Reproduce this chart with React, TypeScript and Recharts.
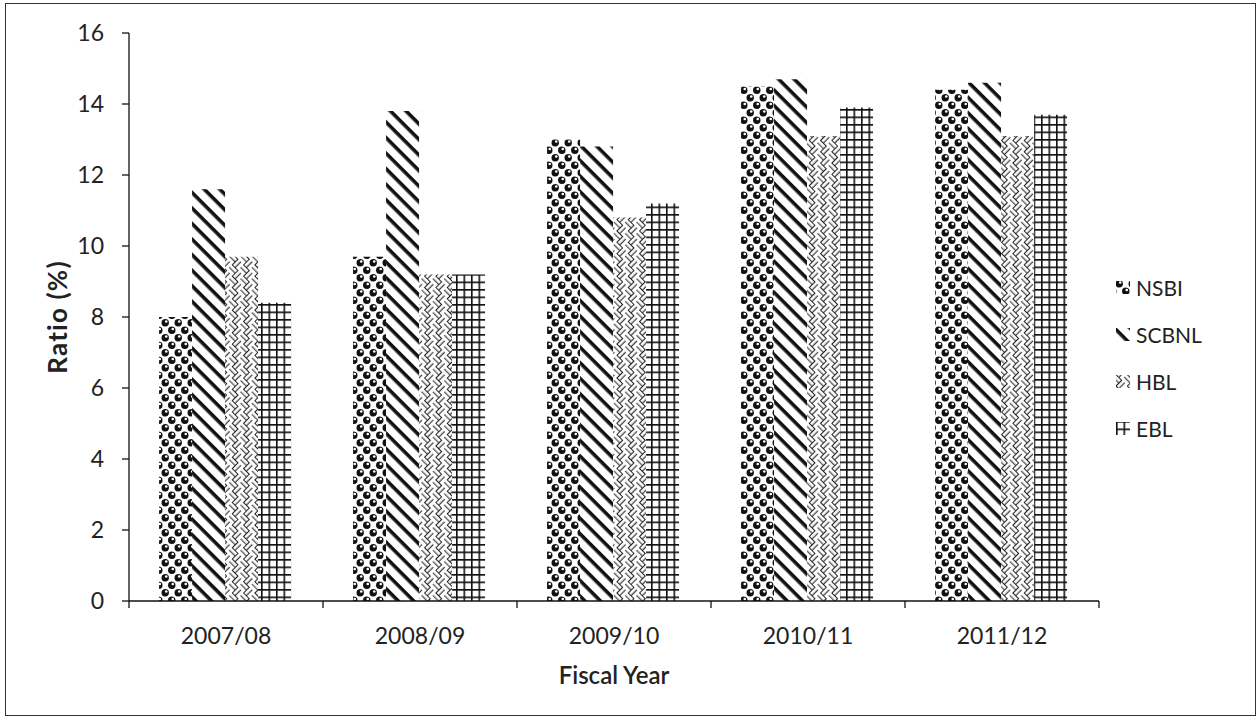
import React from 'react';
import { BarChart, Bar, XAxis, YAxis, Legend } from 'recharts';

// Fiscal years on the category axis
const years = ['2007/08', '2008/09', '2009/10', '2010/11', '2011/12'];

// Ratio (%) per bank, one value per fiscal year
const nsbi = [8.0, 9.7, 13.0, 14.5, 14.4];
const scbnl = [11.6, 13.8, 12.8, 14.7, 14.6];
const hbl = [9.7, 9.2, 10.8, 13.1, 13.1];
const ebl = [8.4, 9.2, 11.2, 13.9, 13.7];

const yTicks = [0, 2, 4, 6, 8, 10, 12, 14, 16];

const seriesNames = ['NSBI', 'SCBNL', 'HBL', 'EBL'];
const seriesPatterns = ['pNSBI', 'pSCBNL', 'pHBL', 'pEBL'];

const data = years.map((year, i) => ({
  year,
  NSBI: nsbi[i],
  SCBNL: scbnl[i],
  HBL: hbl[i],
  EBL: ebl[i],
}));

const FONT = 'Lato, "Open Sans", sans-serif';
const CHART_W = 1248;
const CHART_H = 710;
const MARGIN = { top: 29, right: 155, bottom: 33, left: 63 };
const Y_AXIS_W = 60;
const PLOT_W = CHART_W - MARGIN.left - MARGIN.right - Y_AXIS_W;
const BAND = PLOT_W / years.length;

const PatternDefs = () => (
  <defs>
    {/* black spheres on white */}
    <pattern id="pNSBI" patternUnits="userSpaceOnUse" width="13" height="15">
      <rect width="13" height="15" fill="#fff" />
      {[
        [3.25, 3.75],
        [9.75, 11.25],
        [-3.25, 11.25],
        [16.25, 3.75],
        [3.25, 18.75],
        [9.75, -3.75],
      ].map(([cx, cy], k) => (
        <g key={k}>
          <circle cx={cx} cy={cy} r={3.7} fill="#111" />
          <circle cx={cx + 1} cy={cy - 1.2} r={1.3} fill="#fff" />
        </g>
      ))}
    </pattern>
    {/* wide diagonal stripes */}
    <pattern
      id="pSCBNL"
      patternUnits="userSpaceOnUse"
      width="11"
      height="11"
      patternTransform="rotate(45)"
    >
      <rect width="11" height="11" fill="#fff" />
      <rect x="0" y="0" width="11" height="3.6" fill="#111" />
    </pattern>
    {/* diagonal basket weave */}
    <pattern
      id="pHBL"
      patternUnits="userSpaceOnUse"
      width="16"
      height="16"
      patternTransform="rotate(45)"
    >
      <rect width="16" height="16" fill="#fff" />
      <path
        d="M0,0.5 H8 M0,4.3 H8 M8.5,0 V8 M12.3,0 V8 M0.5,8 V16 M4.3,8 V16 M8,8.5 H16 M8,12.3 H16"
        stroke="#222"
        strokeWidth="1.1"
        fill="none"
      />
    </pattern>
    {/* square grid */}
    <pattern id="pEBL" patternUnits="userSpaceOnUse" width="7.5" height="7.5">
      <rect width="7.5" height="7.5" fill="#fff" />
      <path d="M0,0.8 H7.5 M0.8,0 V7.5" stroke="#111" strokeWidth="1.6" fill="none" />
    </pattern>
  </defs>
);

const XTick = (props: any) => {
  const { x, y, payload, index } = props;
  const half = BAND / 2;
  return (
    <g>
      <line x1={x - half} y1={y} x2={x - half} y2={y + 7} stroke="#111" strokeWidth={1.3} />
      {index === years.length - 1 && (
        <line x1={x + half} y1={y} x2={x + half} y2={y + 7} stroke="#111" strokeWidth={1.3} />
      )}
      <text
        x={x}
        y={y + 43}
        textAnchor="middle"
        fontFamily={FONT}
        fontSize={23}
        fill="#222"
      >
        {payload.value}
      </text>
    </g>
  );
};

const renderLegend = () => (
  <div style={{ fontFamily: FONT, fontSize: 21, color: '#222' }}>
    {seriesNames.map((name, i) => (
      <div
        key={name}
        style={{ height: 47, display: 'flex', alignItems: 'center' }}
      >
        <svg width={15} height={15} style={{ marginRight: 5 }}>
          <rect x={0} y={1} width={14} height={13} fill={`url(#${seriesPatterns[i]})`} />
        </svg>
        <span>{name}</span>
      </div>
    ))}
  </div>
);

export default function App() {
  return (
    <div
      style={{
        position: 'absolute',
        left: 5,
        top: 3,
        width: 1251,
        height: 713,
        boxSizing: 'border-box',
        border: '1.5px solid #333',
        background: '#fff',
      }}
    >
      <BarChart
        width={CHART_W}
        height={CHART_H}
        data={data}
        margin={MARGIN}
        barCategoryGap="15.5%"
        barGap={0}
      >
        <PatternDefs />
        <XAxis
          dataKey="year"
          height={80}
          tickLine={false}
          tickSize={0}
          tickMargin={0}
          stroke="#111"
          strokeWidth={1.3}
          tick={<XTick />}
          interval={0}
          label={{
            content: ({ viewBox }: any) => (
              <text
                x={viewBox.x + viewBox.width / 2}
                y={viewBox.y + 83}
                textAnchor="middle"
                fontFamily={FONT}
                fontSize={24}
                fontWeight={600}
                fill="#222"
              >
                Fiscal Year
              </text>
            ),
          }}
        />
        <YAxis
          width={Y_AXIS_W}
          domain={[0, 16]}
          ticks={yTicks}
          interval={0}
          stroke="#111"
          strokeWidth={1.3}
          tickSize={7}
          tickMargin={18}
          tick={{ fontFamily: FONT, fontSize: 23, fill: '#222' }}
          label={{
            content: ({ viewBox }: any) => {
              const cx = viewBox.x - 12;
              const cy = viewBox.y + viewBox.height / 2;
              return (
                <text
                  x={cx}
                  y={cy}
                  transform={`rotate(-90 ${cx} ${cy})`}
                  textAnchor="middle"
                  dominantBaseline="central"
                  fontFamily={FONT}
                  fontSize={26}
                  fontWeight={700}
                  letterSpacing={1.2}
                  fill="#222"
                >
                  Ratio (%)
                </text>
              );
            },
          }}
        />
        <Legend
          layout="vertical"
          align="center"
          verticalAlign="middle"
          content={renderLegend}
          wrapperStyle={{ position: 'absolute', left: 1110, top: 260, width: 130 }}
        />
        {seriesNames.map((name, i) => (
          <Bar
            key={name}
            dataKey={name}
            fill={`url(#${seriesPatterns[i]})`}
            isAnimationActive={false}
          />
        ))}
      </BarChart>
    </div>
  );
}
